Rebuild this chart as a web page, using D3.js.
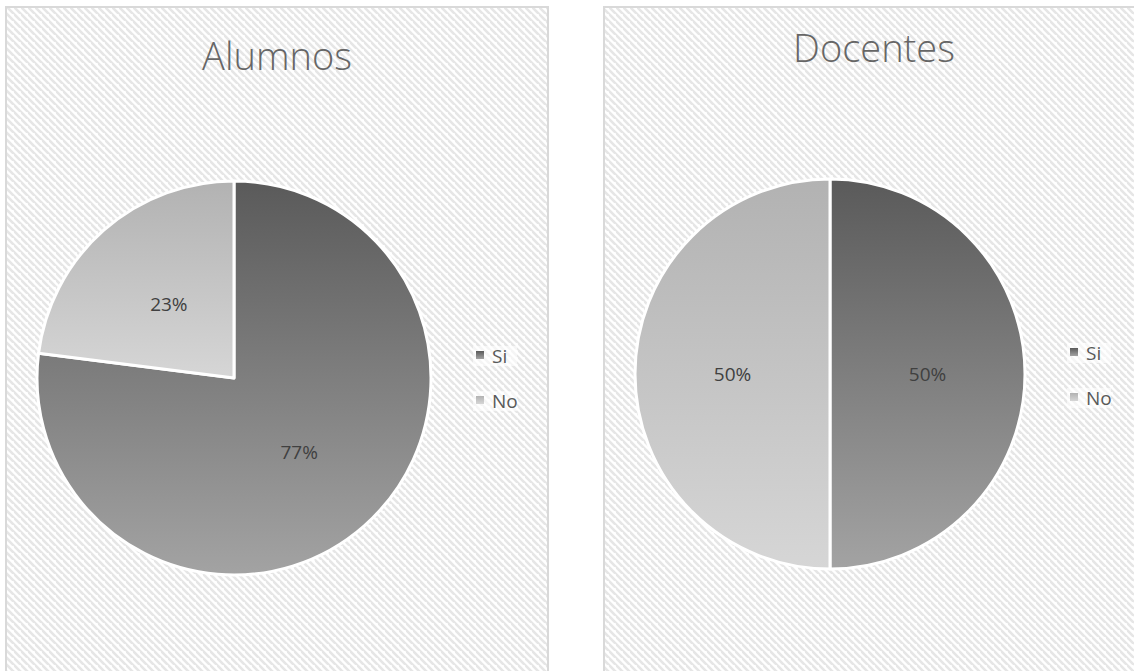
<!DOCTYPE html>
<html>
<head>
<meta charset="utf-8">
<script src="https://cdn.jsdelivr.net/npm/d3@7"></script>
<style>
  body { margin: 0; background: #fff; }
  svg { display: block; }
</style>
</head>
<body>
<script>
// answers per group
const categories = ['Si', 'No'];
const alumnosValues = [77, 23];
const docentesValues = [50, 50];
const chartTitles = ['Alumnos', 'Docentes'];

const width = 1134, height = 671;

const svg = d3.select("body").append("svg")
  .attr("width", width)
  .attr("height", height);

const defs = svg.append("defs");

// diagonal hatch of the chart area
const pat = defs.append("pattern")
  .attr("id", "hatch")
  .attr("patternUnits", "userSpaceOnUse")
  .attr("width", 7).attr("height", 7);
pat.append("rect").attr("width", 7).attr("height", 7).attr("fill", "#fff");
pat.append("path")
  .attr("d", "M-1,-1 L8,8 M-5,2 L1,8 M3,-5 L9,1")
  .attr("stroke", "#e6e6e6")
  .attr("stroke-width", 2.6);

// vertical gradients for the slices
const grads = {Si: ["#5a5a5a", "#a3a3a3"], No: ["#b2b2b2", "#d6d6d6"]};
Object.entries(grads).forEach(([k, c]) => {
  const gr = defs.append("linearGradient")
    .attr("id", "grad" + k)
    .attr("x1", 0).attr("y1", 0).attr("x2", 0).attr("y2", 1);
  gr.append("stop").attr("offset", "0%").attr("stop-color", c[0]);
  gr.append("stop").attr("offset", "100%").attr("stop-color", c[1]);
});

const panels = [
  {x: 6, y: 7, w: 542, title: chartTitles[0], values: alumnosValues,
   cx: 234, cy: 378, r: 197, titleY: 70, legX: 476, legY: 351},
  {x: 604, y: 7, w: 540, title: chartTitles[1], values: docentesValues,
   cx: 830, cy: 374, r: 195, titleY: 62, legX: 1070, legY: 348}
];

const pie = d3.pie().sort(null).value(d => d.value);

panels.forEach(p => {
  const g = svg.append("g");

  g.append("rect")
    .attr("x", p.x).attr("y", p.y)
    .attr("width", p.w).attr("height", height + 20)
    .attr("fill", "url(#hatch)")
    .attr("stroke", "#d9d9d9")
    .attr("stroke-width", 2);

  g.append("text")
    .attr("x", p.x + p.w / 2)
    .attr("y", p.titleY)
    .attr("text-anchor", "middle")
    .attr("font-family", "'Open Sans', sans-serif")
    .attr("font-weight", 300)
    .attr("font-size", 38)
    .attr("fill", "#666")
    .text(p.title);

  const data = categories.map((c, i) => ({cat: c, value: p.values[i]}));
  const arc = d3.arc().innerRadius(0).outerRadius(p.r);

  const pg = g.append("g").attr("transform", `translate(${p.cx},${p.cy})`);
  const arcs = pie(data);

  pg.selectAll("path")
    .data(arcs)
    .join("path")
      .attr("d", arc)
      .attr("fill", d => `url(#grad${d.data.cat})`)
      .attr("stroke", "#fff")
      .attr("stroke-width", 3)
      .attr("stroke-linejoin", "round");

  pg.selectAll("text")
    .data(arcs)
    .join("text")
      .attr("transform", d => `translate(${arc.centroid(d)})`)
      .attr("text-anchor", "middle")
      .attr("dy", "0.35em")
      .attr("font-family", "'Open Sans', sans-serif")
      .attr("font-size", 19)
      .attr("fill", "#404040")
      .text(d => d.data.value + "%");

  // legend
  const leg = g.append("g").attr("transform", `translate(${p.legX},${p.legY})`);
  categories.forEach((c, i) => {
    const it = leg.append("g").attr("transform", `translate(0,${i * 45})`);
    it.append("rect")
      .attr("x", -3).attr("y", -5)
      .attr("width", 44).attr("height", 20)
      .attr("fill", "#fff")
      .attr("opacity", 0.6);
    it.append("rect")
      .attr("width", 8).attr("height", 8)
      .attr("fill", `url(#grad${c})`);
    it.append("text")
      .attr("x", 16).attr("y", 12)
      .attr("font-family", "'Open Sans', sans-serif")
      .attr("font-size", 19)
      .attr("fill", "#595959")
      .text(c);
  });
});
</script>
</body>
</html>
